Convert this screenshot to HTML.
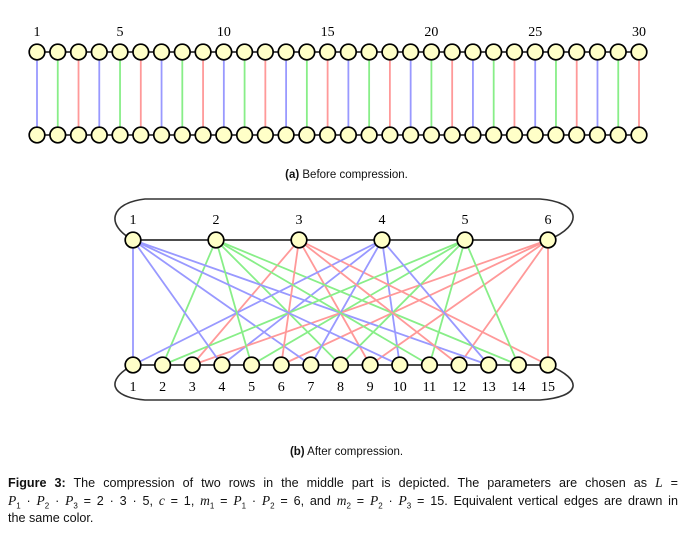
<!DOCTYPE html>
<html><head><meta charset="utf-8"><style>
body{margin:0;background:#fff;width:693px;height:540px;overflow:hidden;font-family:"Liberation Sans",sans-serif}
svg{position:absolute;left:0;top:0}
.cap{position:absolute;font-size:11.5px;color:#111}
.fl{position:absolute;left:8px;width:670px;font-size:12.6px;color:#111;white-space:nowrap}
.j{text-align:justify;text-align-last:justify}
.m{font-family:'Liberation Serif';font-style:italic;font-size:13.5px}
sub{font-size:8px}
</style></head><body>
<svg id="s" width="693" height="540" xmlns="http://www.w3.org/2000/svg"></svg>
<div class="cap" style="left:0;width:693px;text-align:center;top:169px"><b>(a)</b> Before compression.</div>
<div class="cap" style="left:0;width:693px;text-align:center;top:446px"><b>(b)</b> After compression.</div>
<div class="fl j" style="top:475px"><b>Figure 3:</b> The compression of two rows in the middle part is depicted. The parameters are chosen as <span class="m">L</span> =</div>
<div class="fl j" style="top:493px"><span class="m">P</span><sub>1</sub> · <span class="m">P</span><sub>2</sub> · <span class="m">P</span><sub>3</sub> = 2 · 3 · 5, <span class="m">c</span> = 1, <span class="m">m</span><sub>1</sub> = <span class="m">P</span><sub>1</sub> · <span class="m">P</span><sub>2</sub> = 6, and <span class="m">m</span><sub>2</sub> = <span class="m">P</span><sub>2</sub> · <span class="m">P</span><sub>3</sub> = 15. Equivalent vertical edges are drawn in</div>
<div class="fl" style="top:511px">the same color.</div>
<script>
var s=document.getElementById('s'),h='';
var col=['#f99','#99f','#8e8'];
function ln(a,b,c,d,k,w){h+='<line x1="'+a+'" y1="'+b+'" x2="'+c+'" y2="'+d+'" stroke="'+k+'" stroke-width="'+(w||1.8)+'"/>';}
function ci(x,y,r){h+='<circle cx="'+x+'" cy="'+y+'" r="'+r+'" fill="#ffffc8" stroke="#000" stroke-width="1.7"/>';}
function tx(x,y,t){h+='<text x="'+x+'" y="'+y+'" font-family="Liberation Serif" font-size="14" text-anchor="middle" fill="#000">'+t+'</text>';}
var x0=37,dx=(639-37)/29;
ln(x0,52,639,52,'#333');ln(x0,135,639,135,'#333');
for(var i=1;i<=30;i++){var x=x0+(i-1)*dx;ln(x,52,x,135,col[i%3]);}
for(var i=1;i<=30;i++){var x=x0+(i-1)*dx;ci(x,52,7.8);ci(x,135,7.8);if(i==1||i%5==0)tx(x,36,i);}
var tX=function(j){return 133+(j-1)*83;},bX=function(k){return 133+(k-1)*(548-133)/14;};
h+='<path d="M133,240 C105,225 110,203 145,199 L540,199 C580,202 585,225 548,240" fill="none" stroke="#333" stroke-width="1.6"/>';
h+='<path d="M133,365 C105,380 110,397 145,400 L540,400 C580,397 585,380 548,365" fill="none" stroke="#333" stroke-width="1.6"/>';
ln(133,240,548,240,'#333');ln(133,365,548,365,'#333');
for(var i=1;i<=30;i++){var j=(i-1)%6+1,k=(i-1)%15+1;ln(tX(j),240,bX(k),365,col[i%3]);}
for(var j=1;j<=6;j++){ci(tX(j),240,7.8);tx(tX(j),224,j);}
for(var k=1;k<=15;k++){ci(bX(k),365,7.8);tx(bX(k),391,k);}
s.innerHTML=h;
</script>
</body></html>
